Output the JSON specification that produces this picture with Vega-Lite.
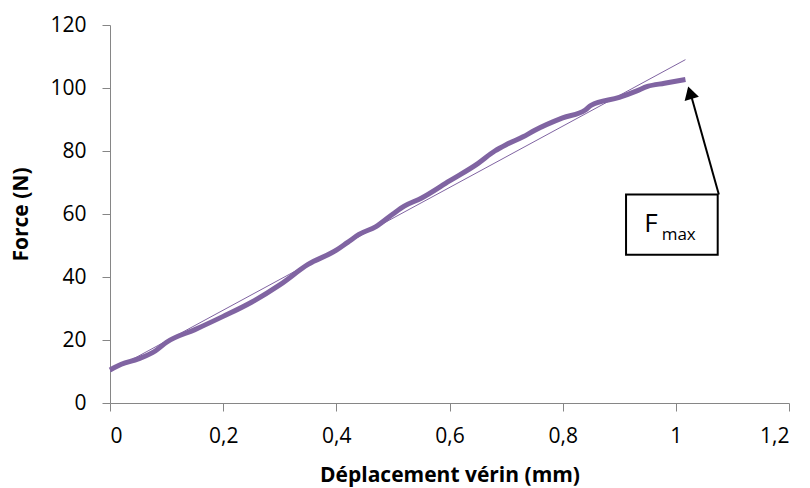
{
  "$schema": "https://vega.github.io/schema/vega-lite/v6.json",
  "width": 679,
  "height": 378,
  "autosize": "none",
  "padding": {"left": 110, "top": 25, "right": 21, "bottom": 85},
  "config": {
    "view": {"stroke": null},
    "font": "Open Sans",
    "axis": {"grid": false, "domainColor": "#868686", "tickColor": "#868686", "tickSize": 8, "labelFont": "Open Sans", "labelFontSize": 21, "labelColor": "#000000", "titleFont": "Open Sans", "titleFontSize": 21, "titleFontWeight": "bold", "titleColor": "#000000"}
  },
  "datasets": {
    "curve": [
      {"d": 0, "f": 10.5}, {"d": 0.02, "f": 12.3}, {"d": 0.05, "f": 14}, {"d": 0.08, "f": 16.5},
      {"d": 0.1, "f": 19.3}, {"d": 0.15, "f": 23.3}, {"d": 0.2, "f": 27.5}, {"d": 0.25, "f": 32},
      {"d": 0.3, "f": 37.5}, {"d": 0.35, "f": 44}, {"d": 0.4, "f": 48.5}, {"d": 0.42, "f": 51},
      {"d": 0.44, "f": 53.5}, {"d": 0.47, "f": 56}, {"d": 0.5, "f": 60}, {"d": 0.52, "f": 62.5},
      {"d": 0.55, "f": 65}, {"d": 0.6, "f": 70.5}, {"d": 0.65, "f": 76}, {"d": 0.68, "f": 80},
      {"d": 0.7, "f": 82}, {"d": 0.73, "f": 84.5}, {"d": 0.75, "f": 86.5}, {"d": 0.8, "f": 90.5},
      {"d": 0.84, "f": 93}, {"d": 0.85, "f": 94.5}, {"d": 0.9, "f": 97}, {"d": 0.93, "f": 99},
      {"d": 0.95, "f": 100.5}, {"d": 0.98, "f": 101.5}, {"d": 1.017, "f": 102.7}
    ],
    "trend": [{"d": 0, "f": 10}, {"d": 1.017, "f": 109}],
    "box": [{"x1": 0.912, "x2": 1.074, "y1": 47.1, "y2": 66.2}],
    "arrow": [{"x1": 1.076, "y1": 66.2, "x2": 1.024, "y2": 99.5}],
    "head": [{"x": 1.025, "y": 98.5}],
    "lab": [{"x": 0.944, "y": 56.8, "t": "F"}],
    "sub": [{"x": 0.975, "y": 53.2, "t": "max"}]
  },
  "layer": [
    {
      "data": {"name": "trend"},
      "mark": {"type": "line", "color": "#8064A2", "strokeWidth": 1},
      "encoding": {
        "x": {"field": "d", "type": "quantitative", "scale": {"domain": [0, 1.2]}, "axis": {"values": [0, 0.2, 0.4, 0.6, 0.8, 1, 1.2], "labelExpr": "replace(format(datum.value, ''), '.', ',')", "title": "Déplacement vérin (mm)", "labelPadding": 14, "titlePadding": 18}},
        "y": {"field": "f", "type": "quantitative", "scale": {"domain": [0, 120]}, "axis": {"values": [0, 20, 40, 60, 80, 100, 120], "title": "Force (N)", "labelPadding": 16, "titlePadding": 18}}
      }
    },
    {
      "data": {"name": "curve"},
      "mark": {"type": "line", "color": "#8064A2", "strokeWidth": 5, "interpolate": "monotone"},
      "encoding": {
        "x": {"field": "d", "type": "quantitative"},
        "y": {"field": "f", "type": "quantitative"}
      }
    },
    {
      "data": {"name": "box"},
      "mark": {"type": "rect", "fill": "white", "stroke": "black", "strokeWidth": 2},
      "encoding": {
        "x": {"field": "x1", "type": "quantitative"},
        "x2": {"field": "x2"},
        "y": {"field": "y1", "type": "quantitative"},
        "y2": {"field": "y2"}
      }
    },
    {
      "data": {"name": "arrow"},
      "mark": {"type": "rule", "color": "black", "strokeWidth": 2},
      "encoding": {
        "x": {"field": "x1", "type": "quantitative"},
        "x2": {"field": "x2"},
        "y": {"field": "y1", "type": "quantitative"},
        "y2": {"field": "y2"}
      }
    },
    {
      "data": {"name": "head"},
      "mark": {"type": "point", "shape": "triangle-up", "filled": true, "color": "black", "opacity": 1, "size": 220, "angle": 344},
      "encoding": {
        "x": {"field": "x", "type": "quantitative"},
        "y": {"field": "y", "type": "quantitative"}
      }
    },
    {
      "data": {"name": "lab"},
      "mark": {"type": "text", "fontSize": 26, "align": "left", "baseline": "middle", "color": "black"},
      "encoding": {
        "x": {"field": "x", "type": "quantitative"},
        "y": {"field": "y", "type": "quantitative"},
        "text": {"field": "t"}
      }
    },
    {
      "data": {"name": "sub"},
      "mark": {"type": "text", "fontSize": 17, "align": "left", "baseline": "middle", "color": "black"},
      "encoding": {
        "x": {"field": "x", "type": "quantitative"},
        "y": {"field": "y", "type": "quantitative"},
        "text": {"field": "t"}
      }
    }
  ]
}
